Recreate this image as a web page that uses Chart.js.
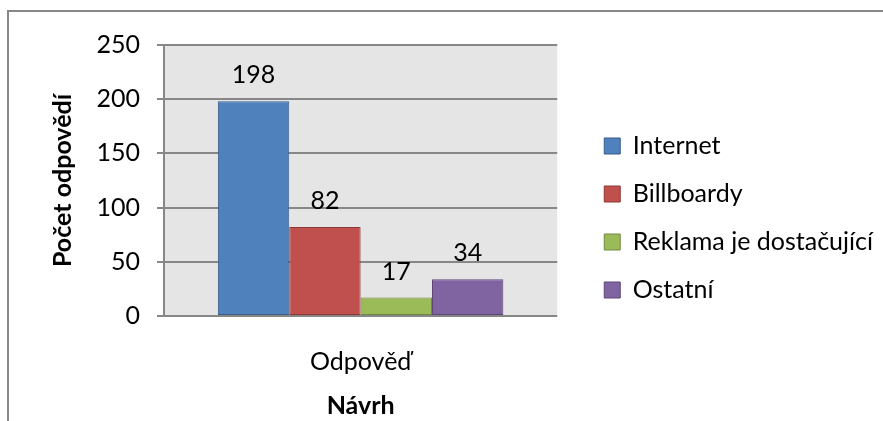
<!DOCTYPE html>
<html>
<head>
<meta charset="utf-8">
<script src="https://cdn.jsdelivr.net/npm/chart.js@4/dist/chart.umd.min.js"></script>
<style>
  html, body { margin: 0; padding: 0; background: #fff; }
  #wrap { position: relative; width: 883px; height: 421px; }
</style>
</head>
<body>
<div id="wrap"><canvas id="chart" width="883" height="421"></canvas></div>
<script>
// data
const categories = ['Odpověď'];
const seriesNames = ['Internet', 'Billboardy', 'Reklama je dostačující', 'Ostatní'];
const seriesValues = [198, 82, 17, 34];
const yTicks = [0, 50, 100, 150, 200, 250];

const fills = ['#4f81bd', '#c0504d', '#9bbb59', '#8064a2'];
const edges = ['#385d8a', '#8c3836', '#71893f', '#5c4776'];
const FONT = 'Lato, "Open Sans", sans-serif';
const FS = 25;
const GRID = '#878787';

// outer frame + gray plot area
const framePlugin = {
    id: 'frame',
    beforeDraw(c) {
        const ctx = c.ctx, a = c.chartArea;
        ctx.save();
        ctx.fillStyle = '#e5e5e5';
        ctx.fillRect(a.left, a.top, a.right - a.left, a.bottom - a.top);
        ctx.fillStyle = GRID;
        ctx.fillRect(7, 10, 876, 2);
        ctx.fillRect(7, 10, 2, 411);
        ctx.restore();
    }
};

// value labels above the bars
const valueLabels = {
    id: 'valueLabels',
    afterDatasetsDraw(c) {
        const ctx = c.ctx;
        ctx.save();
        ctx.font = FS + 'px ' + FONT;
        ctx.fillStyle = '#000';
        ctx.textAlign = 'center';
        ctx.textBaseline = 'middle';
        c.data.datasets.forEach((ds, i) => {
            const bar = c.getDatasetMeta(i).data[0];
            ctx.fillText(ds.data[0], bar.x, bar.y - 26);
        });
        ctx.restore();
    }
};

new Chart(document.getElementById('chart'), {
    type: 'bar',
    data: {
        labels: categories,
        datasets: seriesNames.map((n, i) => ({
            label: n,
            data: [seriesValues[i]],
            backgroundColor: fills[i],
            borderColor: edges[i],
            borderWidth: 1,
            borderSkipped: false,
            categoryPercentage: 0.726,
            barPercentage: 1
        }))
    },
    options: {
        responsive: false,
        animation: false,
        layout: { padding: { top: 15, right: 0, bottom: 0, left: 0 } },
        plugins: {
            tooltip: { enabled: false },
            title: {
                display: true,
                text: '',
                fullSize: false,
                font: { size: 10, lineHeight: 1 },
                padding: { top: 20, bottom: 0 }
            },
            legend: {
                position: 'right',
                align: 'center',
                maxWidth: 400,
                labels: {
                    boxWidth: 16,
                    boxHeight: 16,
                    padding: 23,
                    color: '#000',
                    font: { family: FONT, size: FS }
                }
            }
        },
        scales: {
            x: {
                grid: { display: false },
                border: { display: false },
                ticks: { color: '#000', padding: 23, font: { family: FONT, size: FS } },
                title: {
                    display: true, text: 'Návrh', color: '#000',
                    font: { family: FONT, size: FS, weight: 'bold' },
                    padding: { top: 0, bottom: 0 }
                },
                afterFit(s) { s.height = 105; }
            },
            y: {
                min: 0, max: 250,
                afterBuildTicks(s) { s.ticks = yTicks.map(v => ({ value: v })); },
                grid: { color: GRID, lineWidth: 2, tickLength: 7, drawTicks: true },
                border: { display: true, color: GRID, width: 2 },
                ticks: { color: '#000', padding: 17, font: { family: FONT, size: FS } },
                title: {
                    display: true, text: 'Počet odpovědí', color: '#000',
                    font: { family: FONT, size: FS, weight: 'bold' },
                    padding: { top: 48, bottom: 0 }
                },
                afterFit(s) { s.width = 164; }
            },
            spacer: {
                position: 'right',
                display: true,
                grid: { display: false },
                border: { display: false },
                ticks: { display: false },
                afterFit(s) { s.width = 24; }
            }
        }
    },
    plugins: [framePlugin, valueLabels]
});
</script>
</body>
</html>
